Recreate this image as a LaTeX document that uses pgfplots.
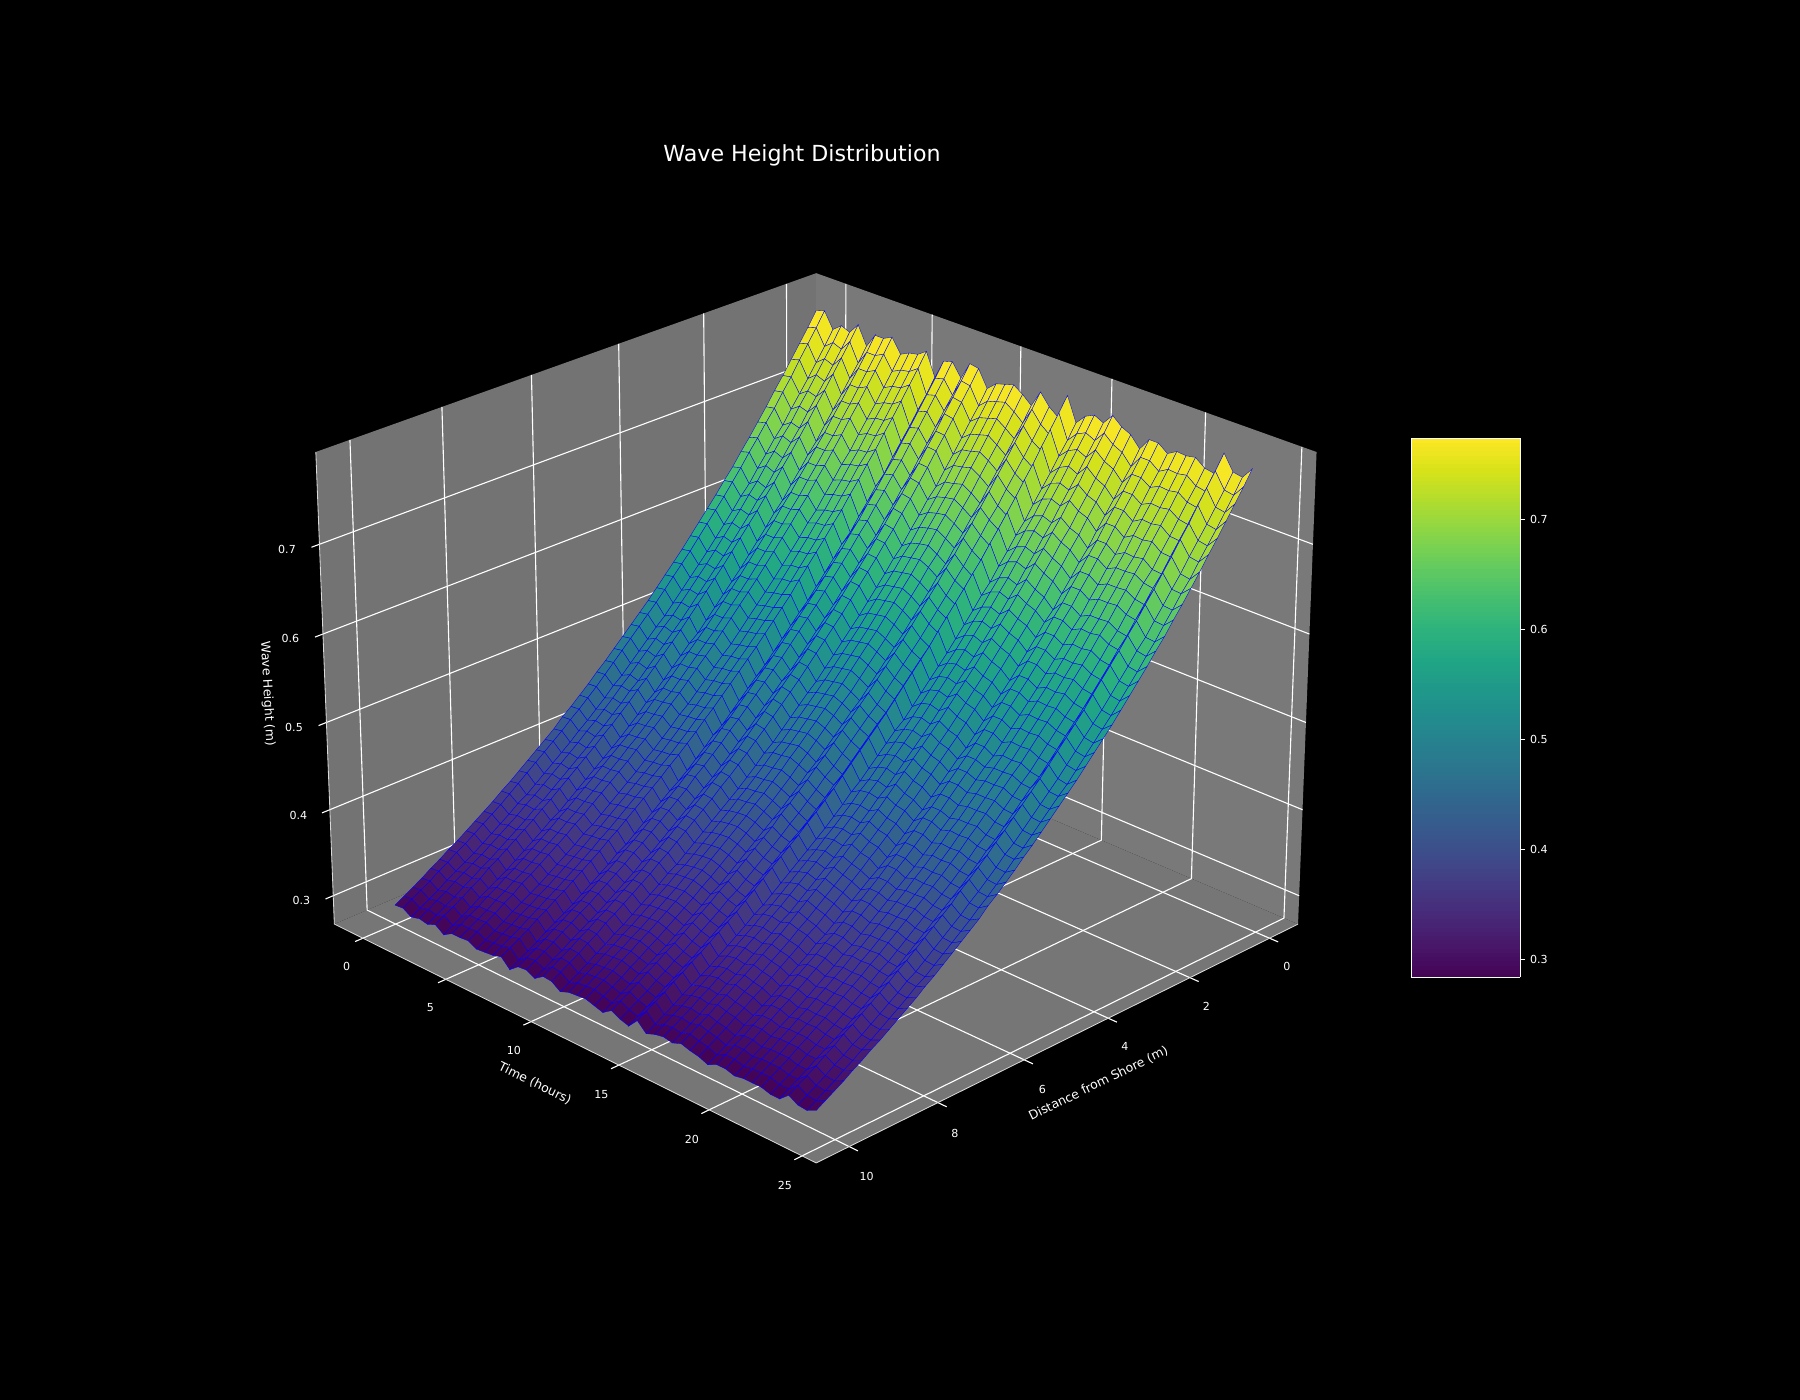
\documentclass[border=0pt]{standalone}
\usepackage{fontspec}
\setmainfont{DejaVu Sans}
\usepackage{pgfplots}
\pgfplotsset{compat=1.18}
% perspective of the 3D view (elev 25, azim 45), result in picture pixels
\pgfmathdeclarefunction{prx}{3}{\pgfmathparse{816.2+5832*(.030612*#1-.073468*#2)/(11.04275-.06659*#2-.027745*#1-.70566*#3)}}
\pgfmathdeclarefunction{pry}{3}{\pgfmathparse{707.5+5832*(1.51334*#3-.031045*#2-.012936*#1-.49774)/(11.04275-.06659*#2-.027745*#1-.70566*#3)}}
\pgfplotsset{
  /pgfplots/table/proj/.style={row sep=\\,x expr={prx(\thisrow{t},\thisrow{d},\thisrow{z})},y expr={pry(\thisrow{t},\thisrow{d},\thisrow{z})},z expr=0},
}
\newcommand{\lab}[4][0]{\node[font=\fontsize{8}{9}\selectfont,text=white,inner sep=0pt,rotate=#1] at (axis cs:#2,{1400-#3},0) {#4};}
\newcommand{\labb}[4][0]{\node[font=\fontsize{9}{10}\selectfont,text=white,inner sep=0pt,rotate=#1] at (axis cs:#2,{1400-#3},0) {#4};}
\begin{document}
\begin{tikzpicture}
\fill[black] (0,0) rectangle (18in,14in);
\begin{axis}[
  at={(0,0)},anchor=south west,
  scale only axis,width=18in,height=14in,
  xmin=0,xmax=1800,ymin=0,ymax=1400,zmin=0,zmax=1,
  view={0}{90},hide axis,clip=false,
  colormap/viridis,point meta min=.2835,point meta max=.7744,
  colorbar sampled,
  colorbar style={
    samples=129,
    at={(13.995in,9.619in)},anchor=north west,
    width=1.09in,height=5.394in,
    ytick={.3,.4,.5,.6,.7},
    ytick pos=right,yticklabel pos=right,
    axis line style={white,line width=.8pt},
    tick style={white,line width=.8pt},
    major tick length=3.5pt,tick align=outside,
    yticklabel style={font=\fontsize{8}{9}\selectfont,text=white,
      /pgf/number format/fixed,/pgf/number format/precision=1,/pgf/number format/fixed zerofill,
      /pgf/number format/assume math mode=true},
  },
]
% panes
\addplot3[fill=white!45!black,draw=none] table[proj]{t d z\\ -1.75 -.729 .2667\\ -1.75 10.729 .2667\\ -1.75 10.729 .8014\\ -1.75 -.729 .8014\\ -1.75 -.729 .2667\\};
\addplot3[fill=white!47.5!black,draw=none] table[proj]{t d z\\ -1.75 -.729 .2667\\ 25.75 -.729 .2667\\ 25.75 -.729 .8014\\ -1.75 -.729 .8014\\ -1.75 -.729 .2667\\};
\addplot3[fill=white!46.3!black,draw=none] table[proj]{t d z\\ -1.75 -.729 .2667\\ 25.75 -.729 .2667\\ 25.75 10.729 .2667\\ -1.75 10.729 .2667\\ -1.75 -.729 .2667\\};
% grid and ticks
\pgfplotsinvokeforeach{0,5,10,15,20,25}{
  \addplot3[white,line width=.8pt] table[proj]{t d z\\ #1 10.9 .2667\\ #1 -.729 .2667\\ #1 -.729 .8014\\};
}
\pgfplotsinvokeforeach{0,2,4,6,8,10}{
  \addplot3[white,line width=.8pt] table[proj]{t d z\\ 26.21 #1 .2667\\ -1.75 #1 .2667\\ -1.75 #1 .8014\\};
}
\pgfplotsinvokeforeach{.3,.4,.5,.6,.7}{
  \addplot3[white,line width=.8pt] table[proj]{t d z\\ -1.75 10.9 #1\\ -1.75 -.729 #1\\ 25.75 -.729 #1\\};
}
% axis lines
\addplot3[white!85!black,line width=.6pt] table[proj]{t d z\\ -1.75 10.729 .8014\\ -1.75 10.729 .2667\\ 25.75 10.729 .2667\\ 25.75 -.729 .2667\\};
% surface, heights in mm, one line per distance
\addplot3[surf,shader=faceted,faceted color=blue,line width=.25pt,z buffer=none,mesh/rows=50,mesh/cols=50,mesh/ordering=x varies]
 table[row sep=\\,header=false,
  x expr={prx(.4897959*mod(\coordindex,50),.2040816*floor((\coordindex+.5)/50),\thisrowno{0}/1000)},
  y expr={pry(.4897959*mod(\coordindex,50),.2040816*floor((\coordindex+.5)/50),\thisrowno{0}/1000)},
  z expr={\thisrowno{0}/1000}]{
783\\786\\768\\776\\772\\784\\763\\779\\779\\784\\768\\773\\775\\782\\756\\778\\781\\766\\786\\784\\765\\774\\777\\780\\773\\764\\783\\770\\762\\790\\763\\774\\779\\774\\786\\777\\772\\760\\774\\774\\766\\772\\771\\773\\765\\763\\789\\772\\770\\783\\
767\\770\\752\\760\\756\\768\\747\\763\\763\\768\\752\\757\\759\\766\\740\\762\\765\\750\\770\\768\\749\\758\\761\\764\\757\\748\\767\\754\\746\\774\\747\\758\\763\\758\\770\\761\\756\\744\\758\\758\\750\\756\\755\\757\\749\\747\\773\\756\\754\\767\\
752\\755\\737\\745\\741\\753\\733\\748\\748\\753\\737\\742\\744\\751\\726\\747\\750\\736\\755\\753\\735\\743\\746\\749\\742\\734\\752\\739\\732\\759\\733\\743\\748\\743\\755\\746\\741\\730\\743\\743\\736\\741\\740\\742\\735\\733\\758\\741\\739\\752\\
737\\740\\722\\730\\726\\738\\718\\733\\733\\738\\722\\727\\729\\736\\711\\732\\735\\721\\740\\738\\720\\728\\731\\734\\727\\719\\737\\724\\717\\744\\718\\728\\733\\728\\740\\731\\726\\715\\728\\728\\721\\726\\725\\727\\720\\718\\743\\726\\724\\737\\
722\\724\\708\\715\\712\\723\\704\\718\\718\\723\\708\\713\\714\\721\\697\\717\\720\\706\\724\\723\\705\\714\\716\\719\\713\\705\\722\\710\\703\\728\\704\\714\\718\\714\\724\\716\\712\\701\\714\\714\\706\\712\\711\\713\\705\\704\\727\\712\\710\\722\\
708\\710\\694\\701\\698\\709\\690\\704\\704\\709\\694\\699\\700\\707\\683\\703\\706\\692\\710\\709\\691\\700\\702\\705\\699\\691\\708\\696\\689\\714\\690\\700\\704\\700\\710\\702\\698\\687\\700\\700\\692\\698\\697\\699\\691\\690\\713\\698\\696\\708\\
693\\695\\679\\686\\683\\694\\675\\689\\689\\694\\679\\684\\685\\692\\668\\688\\691\\677\\695\\694\\676\\685\\687\\690\\684\\676\\693\\681\\674\\699\\675\\685\\689\\685\\695\\687\\683\\672\\685\\685\\677\\683\\682\\684\\676\\675\\698\\683\\681\\693\\
679\\682\\667\\674\\670\\680\\663\\676\\676\\680\\667\\671\\673\\679\\657\\675\\678\\665\\682\\680\\665\\672\\675\\677\\671\\664\\679\\669\\662\\685\\663\\672\\676\\672\\682\\675\\670\\660\\672\\672\\665\\670\\670\\671\\665\\663\\684\\670\\669\\679\\
665\\668\\653\\660\\656\\666\\649\\662\\662\\666\\653\\657\\659\\665\\643\\661\\664\\651\\668\\666\\651\\658\\661\\663\\657\\650\\665\\655\\648\\671\\649\\658\\662\\658\\668\\661\\656\\646\\658\\658\\651\\656\\656\\657\\651\\649\\670\\656\\655\\665\\
652\\655\\640\\647\\643\\653\\636\\649\\649\\653\\640\\644\\646\\652\\630\\648\\651\\638\\655\\653\\638\\645\\648\\650\\644\\637\\652\\642\\635\\658\\636\\645\\649\\645\\655\\648\\643\\633\\645\\645\\638\\643\\643\\644\\638\\636\\657\\643\\642\\652\\
638\\641\\626\\633\\629\\639\\622\\635\\635\\639\\626\\630\\632\\638\\616\\634\\637\\624\\641\\639\\624\\631\\634\\636\\630\\623\\638\\628\\621\\644\\622\\631\\635\\631\\641\\634\\629\\619\\631\\631\\624\\629\\629\\630\\624\\622\\643\\629\\628\\638\\
626\\628\\615\\621\\618\\627\\611\\623\\623\\627\\615\\619\\620\\626\\606\\622\\625\\613\\628\\627\\613\\620\\622\\624\\619\\612\\626\\616\\610\\632\\611\\619\\623\\619\\628\\622\\618\\609\\619\\619\\613\\618\\617\\619\\613\\611\\631\\618\\616\\626\\
613\\615\\602\\608\\605\\614\\598\\610\\610\\614\\602\\606\\607\\613\\593\\609\\612\\600\\615\\614\\600\\607\\609\\611\\606\\599\\613\\603\\597\\619\\598\\606\\610\\606\\615\\609\\605\\596\\606\\606\\600\\605\\604\\606\\600\\598\\618\\605\\603\\613\\
601\\603\\590\\596\\593\\602\\586\\598\\598\\602\\590\\594\\595\\601\\581\\597\\600\\588\\603\\602\\588\\595\\597\\599\\594\\587\\601\\591\\585\\607\\586\\594\\598\\594\\603\\597\\593\\584\\594\\594\\588\\593\\592\\594\\588\\586\\606\\593\\591\\601\\
589\\591\\578\\584\\581\\590\\574\\586\\586\\590\\578\\582\\583\\589\\569\\585\\588\\576\\591\\590\\576\\583\\585\\587\\582\\575\\589\\579\\573\\595\\574\\582\\586\\582\\591\\585\\581\\572\\582\\582\\576\\581\\580\\582\\576\\574\\594\\581\\579\\589\\
577\\579\\566\\572\\569\\578\\562\\574\\574\\578\\566\\570\\571\\577\\557\\573\\576\\564\\579\\578\\564\\571\\573\\575\\570\\563\\577\\567\\561\\583\\562\\570\\574\\570\\579\\573\\569\\560\\570\\570\\564\\569\\568\\570\\564\\562\\582\\569\\567\\577\\
565\\567\\555\\560\\558\\566\\551\\562\\562\\566\\555\\558\\560\\564\\547\\562\\564\\553\\567\\566\\553\\559\\561\\563\\558\\552\\565\\556\\551\\570\\551\\559\\562\\559\\567\\561\\558\\549\\559\\559\\553\\558\\557\\558\\553\\551\\569\\558\\556\\565\\
554\\556\\544\\549\\547\\555\\540\\551\\551\\555\\544\\547\\549\\553\\536\\551\\553\\542\\556\\555\\542\\548\\550\\552\\547\\541\\554\\545\\540\\559\\540\\548\\551\\548\\556\\550\\547\\538\\548\\548\\542\\547\\546\\547\\542\\540\\558\\547\\545\\554\\
543\\545\\533\\538\\536\\544\\529\\540\\540\\544\\533\\536\\538\\542\\525\\540\\542\\531\\545\\544\\531\\537\\539\\541\\536\\530\\543\\534\\529\\548\\529\\537\\540\\537\\545\\539\\536\\527\\537\\537\\531\\536\\535\\536\\531\\529\\547\\536\\534\\543\\
532\\534\\522\\527\\525\\533\\518\\529\\529\\533\\522\\525\\527\\531\\514\\529\\531\\520\\534\\533\\520\\526\\528\\530\\525\\519\\532\\523\\518\\537\\518\\526\\529\\526\\534\\528\\525\\516\\526\\526\\520\\525\\524\\525\\520\\518\\536\\525\\523\\532\\
521\\523\\511\\516\\514\\522\\507\\518\\518\\522\\511\\514\\516\\520\\503\\518\\520\\509\\523\\522\\509\\515\\517\\519\\514\\508\\521\\512\\507\\526\\507\\515\\518\\515\\523\\517\\514\\505\\515\\515\\509\\514\\513\\514\\509\\507\\525\\514\\512\\521\\
511\\513\\502\\507\\504\\511\\499\\508\\508\\511\\502\\505\\506\\510\\494\\508\\510\\501\\513\\511\\500\\505\\507\\509\\505\\499\\511\\503\\498\\515\\499\\505\\508\\505\\513\\507\\504\\497\\505\\505\\501\\504\\504\\505\\500\\499\\514\\504\\503\\511\\
501\\503\\492\\497\\494\\501\\489\\498\\498\\501\\492\\495\\496\\500\\484\\498\\500\\491\\503\\501\\490\\495\\497\\499\\495\\489\\501\\493\\488\\505\\489\\495\\498\\495\\503\\497\\494\\487\\495\\495\\491\\494\\494\\495\\490\\489\\504\\494\\493\\501\\
491\\493\\482\\487\\484\\491\\479\\488\\488\\491\\482\\485\\486\\490\\474\\488\\490\\481\\493\\491\\480\\485\\487\\489\\485\\479\\491\\483\\478\\495\\479\\485\\488\\485\\493\\487\\484\\477\\485\\485\\481\\484\\484\\485\\480\\479\\494\\484\\483\\491\\
481\\483\\472\\477\\474\\481\\469\\478\\478\\481\\472\\475\\476\\480\\464\\478\\480\\471\\483\\481\\470\\475\\477\\479\\475\\469\\481\\473\\468\\485\\469\\475\\478\\475\\483\\477\\474\\467\\475\\475\\471\\474\\474\\475\\470\\469\\484\\474\\473\\481\\
471\\473\\462\\467\\464\\471\\459\\468\\468\\471\\462\\465\\466\\470\\454\\468\\470\\461\\473\\471\\460\\465\\467\\469\\465\\459\\471\\463\\458\\475\\459\\465\\468\\465\\473\\467\\464\\457\\465\\465\\461\\464\\464\\465\\460\\459\\474\\464\\463\\471\\
462\\463\\454\\458\\456\\462\\451\\459\\460\\462\\454\\456\\457\\461\\447\\459\\461\\452\\463\\462\\452\\457\\458\\460\\456\\451\\462\\455\\450\\465\\451\\457\\459\\457\\463\\458\\456\\449\\457\\457\\452\\456\\455\\456\\452\\451\\465\\456\\455\\462\\
452\\453\\444\\448\\446\\452\\441\\449\\450\\452\\444\\446\\447\\451\\437\\449\\451\\442\\453\\452\\442\\447\\448\\450\\446\\441\\452\\445\\440\\455\\441\\447\\449\\447\\453\\448\\446\\439\\447\\447\\442\\446\\445\\446\\442\\441\\455\\446\\445\\452\\
443\\444\\435\\439\\437\\443\\432\\440\\441\\443\\435\\437\\438\\442\\428\\440\\442\\433\\444\\443\\433\\438\\439\\441\\437\\432\\443\\436\\431\\446\\432\\438\\440\\438\\444\\439\\437\\430\\438\\438\\433\\437\\436\\437\\433\\432\\446\\437\\436\\443\\
434\\435\\426\\430\\428\\434\\423\\431\\432\\434\\426\\428\\429\\433\\419\\431\\433\\424\\435\\434\\424\\429\\430\\432\\428\\423\\434\\427\\422\\437\\423\\429\\431\\429\\435\\430\\428\\421\\429\\429\\424\\428\\427\\428\\424\\423\\437\\428\\427\\434\\
426\\427\\418\\422\\420\\426\\415\\423\\424\\426\\418\\420\\421\\425\\411\\423\\425\\416\\427\\426\\416\\421\\422\\424\\420\\415\\426\\419\\414\\429\\415\\421\\423\\421\\427\\422\\420\\413\\421\\421\\416\\420\\419\\420\\416\\415\\429\\420\\419\\426\\
416\\418\\409\\413\\411\\417\\407\\415\\415\\417\\409\\412\\413\\416\\404\\414\\415\\408\\418\\417\\408\\412\\414\\415\\412\\407\\416\\410\\407\\420\\407\\412\\415\\412\\418\\414\\411\\406\\412\\412\\408\\411\\411\\412\\408\\407\\419\\411\\410\\416\\
408\\410\\401\\405\\403\\409\\399\\407\\407\\409\\401\\404\\405\\408\\396\\406\\407\\400\\410\\409\\400\\404\\406\\407\\404\\399\\408\\402\\399\\412\\399\\404\\407\\404\\410\\406\\403\\398\\404\\404\\400\\403\\403\\404\\400\\399\\411\\403\\402\\408\\
400\\402\\393\\397\\395\\401\\391\\399\\399\\401\\393\\396\\397\\400\\388\\398\\399\\392\\402\\401\\392\\396\\398\\399\\396\\391\\400\\394\\391\\404\\391\\396\\399\\396\\402\\398\\395\\390\\396\\396\\392\\395\\395\\396\\392\\391\\403\\395\\394\\400\\
392\\394\\385\\389\\387\\393\\383\\391\\391\\393\\385\\388\\389\\392\\380\\390\\391\\384\\394\\393\\384\\388\\390\\391\\388\\383\\392\\386\\383\\396\\383\\388\\391\\388\\394\\390\\387\\382\\388\\388\\384\\387\\387\\388\\384\\383\\395\\387\\386\\392\\
384\\386\\377\\381\\379\\385\\375\\383\\383\\385\\377\\380\\381\\384\\372\\382\\383\\376\\386\\385\\376\\380\\382\\383\\380\\375\\384\\378\\375\\388\\375\\380\\383\\380\\386\\382\\379\\374\\380\\380\\376\\379\\379\\380\\376\\375\\387\\379\\378\\384\\
376\\378\\369\\373\\371\\377\\367\\375\\375\\377\\369\\372\\373\\376\\364\\374\\375\\368\\378\\377\\368\\372\\374\\375\\372\\367\\376\\370\\367\\380\\367\\372\\375\\372\\378\\374\\371\\366\\372\\372\\368\\371\\371\\372\\368\\367\\379\\371\\370\\376\\
369\\370\\363\\366\\365\\370\\361\\368\\368\\370\\363\\365\\366\\369\\358\\367\\368\\362\\370\\370\\362\\366\\367\\368\\365\\361\\369\\364\\361\\372\\361\\366\\368\\366\\370\\367\\365\\360\\366\\366\\362\\365\\364\\365\\362\\361\\372\\365\\364\\369\\
361\\362\\355\\358\\357\\362\\353\\360\\360\\362\\355\\357\\358\\361\\350\\359\\360\\354\\362\\362\\354\\358\\359\\360\\357\\353\\361\\356\\353\\364\\353\\358\\360\\358\\362\\359\\357\\352\\358\\358\\354\\357\\356\\357\\354\\353\\364\\357\\356\\361\\
354\\355\\348\\351\\350\\355\\346\\353\\353\\355\\348\\350\\351\\354\\343\\352\\353\\347\\355\\355\\347\\351\\352\\353\\350\\346\\354\\349\\346\\357\\346\\351\\353\\351\\355\\352\\350\\345\\351\\351\\347\\350\\349\\350\\347\\346\\357\\350\\349\\354\\
347\\348\\341\\344\\343\\348\\339\\346\\346\\348\\341\\343\\344\\347\\336\\345\\346\\340\\348\\348\\340\\344\\345\\346\\343\\339\\347\\342\\339\\350\\339\\344\\346\\344\\348\\345\\343\\338\\344\\344\\340\\343\\342\\343\\340\\339\\350\\343\\342\\347\\
340\\341\\334\\337\\336\\341\\332\\339\\339\\341\\334\\336\\337\\340\\329\\338\\339\\333\\341\\341\\333\\337\\338\\339\\336\\332\\340\\335\\332\\343\\332\\337\\339\\337\\341\\338\\336\\331\\337\\337\\333\\336\\335\\336\\333\\332\\343\\336\\335\\340\\
333\\334\\327\\330\\329\\334\\325\\332\\332\\334\\327\\329\\330\\333\\322\\331\\332\\326\\334\\334\\326\\330\\331\\332\\329\\325\\333\\328\\325\\336\\325\\330\\332\\330\\334\\331\\329\\324\\330\\330\\326\\329\\328\\329\\326\\325\\336\\329\\328\\333\\
327\\328\\321\\324\\323\\328\\319\\326\\326\\328\\321\\323\\324\\327\\316\\325\\326\\320\\328\\328\\320\\324\\325\\326\\323\\319\\327\\322\\319\\330\\319\\324\\326\\324\\328\\325\\323\\318\\324\\324\\320\\323\\322\\323\\320\\319\\330\\323\\322\\327\\
320\\321\\315\\318\\316\\320\\313\\319\\319\\320\\315\\316\\317\\320\\310\\318\\319\\314\\321\\320\\313\\317\\318\\319\\316\\313\\320\\315\\312\\323\\313\\317\\319\\317\\321\\318\\316\\312\\317\\317\\314\\316\\316\\316\\313\\313\\322\\316\\315\\320\\
314\\315\\309\\312\\310\\314\\307\\313\\313\\314\\309\\310\\311\\314\\304\\312\\313\\308\\315\\314\\307\\311\\312\\313\\310\\307\\314\\309\\306\\317\\307\\311\\313\\311\\315\\312\\310\\306\\311\\311\\308\\310\\310\\310\\307\\307\\316\\310\\309\\314\\
307\\308\\302\\305\\303\\307\\300\\306\\306\\307\\302\\303\\304\\307\\297\\305\\306\\301\\308\\307\\300\\304\\305\\306\\303\\300\\307\\302\\299\\310\\300\\304\\306\\304\\308\\305\\303\\299\\304\\304\\301\\303\\303\\303\\300\\300\\309\\303\\302\\307\\
301\\302\\296\\299\\297\\301\\294\\300\\300\\301\\296\\297\\298\\301\\291\\299\\300\\295\\302\\301\\294\\298\\299\\300\\297\\294\\301\\296\\293\\304\\294\\298\\300\\298\\302\\299\\297\\293\\298\\298\\295\\297\\297\\297\\294\\294\\303\\297\\296\\301\\
295\\296\\290\\293\\291\\295\\288\\294\\294\\295\\290\\291\\292\\295\\285\\293\\294\\289\\296\\295\\288\\292\\293\\294\\291\\288\\295\\290\\287\\298\\288\\292\\294\\292\\296\\293\\291\\287\\292\\292\\289\\291\\291\\291\\288\\288\\297\\291\\290\\295\\
289\\290\\284\\287\\285\\289\\282\\288\\288\\289\\284\\285\\286\\289\\279\\287\\288\\283\\290\\289\\282\\286\\287\\288\\285\\282\\289\\284\\281\\292\\282\\286\\288\\286\\290\\287\\285\\281\\286\\286\\283\\285\\285\\285\\282\\282\\291\\285\\284\\289\\
};
% texts
\node[font=\fontsize{16}{18}\selectfont,text=white,inner sep=0pt] at (axis cs:802,{1400-155},0) {Wave Height Distribution};
\lab{287}{549}{0.7}\lab{290.3}{638.7}{0.6}\lab{294}{727}{0.5}\lab{298.3}{815}{0.4}\lab{301.3}{900}{0.3}
\lab{346.7}{966.5}{0}\lab{430.5}{1007.8}{5}\lab{514}{1050}{10}\lab{601.5}{1095}{15}\lab{692}{1139.8}{20}\lab{785}{1185.7}{25}
\lab{1287}{966.5}{0}\lab{1206.5}{1006.6}{2}\lab{1125}{1046.8}{4}\lab{1042.4}{1089.3}{6}\lab{955}{1133}{8}\lab{866.7}{1176.5}{10}
\labb[-87]{267.3}{694}{Wave Height (m)}
\labb[-26]{535}{1083.5}{Time (hours)}
\labb[26]{1098.5}{1083.5}{Distance from Shore (m)}
\end{axis}
\end{tikzpicture}
\end{document}
